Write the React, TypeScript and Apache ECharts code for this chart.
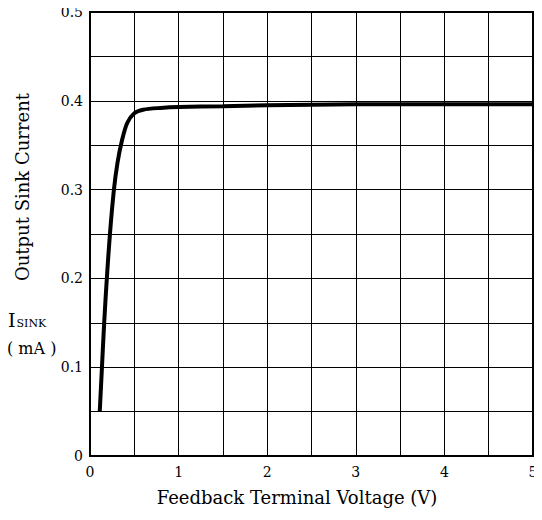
import React, { useEffect, useRef } from "react";
import * as echarts from "echarts";

const voltage = [0.11, 0.135, 0.16, 0.19, 0.225, 0.27, 0.31, 0.36, 0.42, 0.5, 0.6, 0.8, 1.0, 1.5, 2.0, 3.0, 4.0, 5.0];
const current = [0.05, 0.1, 0.15, 0.2, 0.25, 0.3, 0.33, 0.355, 0.375, 0.386, 0.39, 0.392, 0.393, 0.394, 0.395, 0.396, 0.396, 0.396];
const xTickLabels = ["0", "1", "2", "3", "4", "5"];
const yTickLabels = ["0", "0.1", "0.2", "0.3", "0.4", "0.5"];

const FONT = "DejaVu Serif";

export default function App() {
  const ref = useRef<HTMLDivElement>(null);
  useEffect(() => {
    if (!ref.current) return;
    const chart = echarts.init(ref.current, null, { renderer: "svg" });
    const data = voltage.map((v, i) => [v, current[i]]);
    chart.setOption({
      animation: false,
      backgroundColor: "#ffffff",
      textStyle: { fontFamily: FONT, color: "#000" },
      grid: { left: 90, top: 12, right: 9, bottom: 64, show: true, borderColor: "#000", borderWidth: 2, backgroundColor: "transparent" },
      xAxis: {
        type: "value",
        min: 0,
        max: 5,
        interval: 0.5,
        axisLine: { show: true, lineStyle: { color: "#000", width: 2 } },
        axisTick: { show: false },
        splitLine: { show: true, lineStyle: { color: "#000", width: 1 } },
        axisLabel: {
          fontFamily: FONT,
          fontSize: 14,
          color: "#000",
          margin: 9,
          formatter: (v: number) => {
            const r = Math.round(v * 10) / 10;
            if (Math.abs(r - Math.round(r)) < 1e-6) return xTickLabels[Math.round(r)];
            return "";
          },
        },
      },
      yAxis: {
        type: "value",
        min: 0,
        max: 0.5,
        interval: 0.05,
        axisLine: { show: true, lineStyle: { color: "#000", width: 2 } },
        axisTick: { show: false },
        splitLine: { show: true, lineStyle: { color: "#000", width: 1 } },
        axisLabel: {
          fontFamily: FONT,
          fontSize: 14,
          color: "#000",
          margin: 7,
          formatter: (v: number) => {
            const k = Math.round(v * 20);
            if (k % 2 === 0) return yTickLabels[k / 2];
            return "";
          },
        },
      },
      series: [
        {
          type: "line",
          data,
          smooth: 0.3,
          showSymbol: false,
          lineStyle: { color: "#000", width: 4 },
          z: 5,
        },
      ],
      graphic: [
        {
          type: "text",
          x: 297,
          y: 497,
          style: {
            text: "Feedback Terminal Voltage (V)",
            fontFamily: FONT,
            fontSize: 18,
            fill: "#000",
            align: "center",
            verticalAlign: "middle",
          },
        },
        {
          type: "text",
          x: 22,
          y: 187,
          rotation: Math.PI / 2,
          style: {
            text: "Output Sink Current",
            fontFamily: FONT,
            fontSize: 18,
            fill: "#000",
            align: "center",
            verticalAlign: "middle",
          },
        },
        {
          type: "text",
          x: 8,
          y: 320,
          style: {
            text: "{a|I}{b|SINK}",
            rich: {
              a: { fontFamily: FONT, fontSize: 19, fill: "#000", verticalAlign: "bottom" },
              b: { fontFamily: FONT, fontSize: 11, fill: "#000", verticalAlign: "bottom", padding: [0, 0, 1, 1] },
            },
            verticalAlign: "middle",
          },
        },
        {
          type: "text",
          x: 7,
          y: 348,
          style: {
            text: "( mA )",
            fontFamily: FONT,
            fontSize: 16,
            fill: "#000",
            verticalAlign: "middle",
          },
        },
      ],
    });
    return () => chart.dispose();
  }, []);
  return <div ref={ref} style={{ width: 542, height: 520, margin: -8 }} />;
}
